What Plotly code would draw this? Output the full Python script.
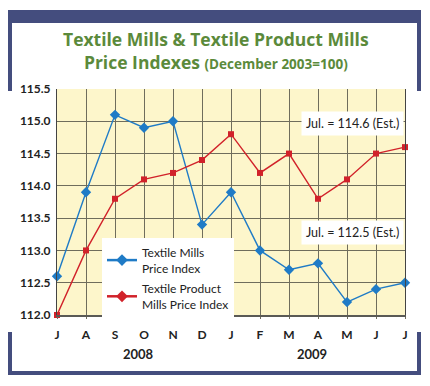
import plotly.graph_objects as go

months = ["J", "A", "S", "O", "N", "D", "J", "F", "M", "A", "M", "J", "J"]
textile_mills = [112.6, 113.9, 115.1, 114.9, 115.0, 113.4, 113.9, 113.0, 112.7, 112.8, 112.2, 112.4, 112.5]
textile_product_mills = [112.0, 113.0, 113.8, 114.1, 114.2, 114.4, 114.8, 114.2, 114.5, 113.8, 114.1, 114.5, 114.6]
y_ticks = [112.0, 112.5, 113.0, 113.5, 114.0, 114.5, 115.0, 115.5]
years = ["2008", "2009"]
series_names = ["Textile Mills<br>Price Index", "Textile Product<br>Mills Price Index"]

# page body has an 8px default margin; lay out in window pixels and compensate
OFF = 8
WIN_W, WIN_H = 430, 386
W, H = WIN_W - OFF, WIN_H - OFF
L, R, T, B = 57, 405, 89, 315   # plot area in window pixels
xs = list(range(len(months)))

def px(x):
    return (x - L) / (R - L)

def py(y):
    return (B - y) / (B - T)

BLUE = "#1f7bc6"
RED = "#d1222a"
GREEN = "#5b8a3b"
NAVY = "#444d7e"
FONT = "Lato"
TFONT = "Open Sans"

fig = go.Figure()
fig.add_trace(go.Scatter(
    x=xs, y=textile_mills, mode="lines+markers",
    name=series_names[0], showlegend=False, legendgroup="a",
    line=dict(color=BLUE, width=1.4),
    marker=dict(symbol="diamond", size=8, color=BLUE),
    cliponaxis=False,
))
fig.add_trace(go.Scatter(
    x=xs, y=textile_product_mills, mode="lines+markers",
    name=series_names[1], showlegend=False, legendgroup="b",
    line=dict(color=RED, width=1.4),
    marker=dict(symbol="square", size=6, color=RED),
    cliponaxis=False,
))
# legend entries (reference legend shows diamond markers for both series)
for nm, col, grp in [(series_names[0], BLUE, "a"), (series_names[1], RED, "b")]:
    fig.add_trace(go.Scatter(
        x=[None], y=[None], mode="lines+markers", name=nm, legendgroup=grp,
        line=dict(color=col, width=2.5),
        marker=dict(symbol="diamond", size=9, color=col),
    ))

shapes = []
def rect(x0, y0, x1, y1):
    shapes.append(dict(type="rect", xref="paper", yref="paper",
                       x0=px(x0), x1=px(x1), y0=py(y1), y1=py(y0),
                       fillcolor=NAVY, line=dict(width=0), layer="above"))

rect(8, 10, 421, 23)
rect(8, 23, 12, 91)
rect(417, 23, 421, 91)
rect(8, 332, 12, 375)
rect(8, 371, 421, 375)
rect(417, 332, 421, 375)

annotations = [
    dict(xref="paper", yref="paper", x=px(216), y=py(50),
         text="<b>Textile Mills &amp; Textile Product Mills<br>Price Indexes <span style='font-size:13.5px'>(December 2003=100)</span></b>",
         showarrow=False, align="center", font=dict(family=TFONT, size=17.5, color=GREEN),
         xanchor="center", yanchor="middle"),
    dict(xref="paper", yref="paper", x=px(352), y=py(123), text="Jul. = 114.6 (Est.)",
         showarrow=False, font=dict(family=FONT, size=12.5, color="#222"), bgcolor="white",
         borderpad=4, xanchor="center", yanchor="middle"),
    dict(xref="paper", yref="paper", x=px(352), y=py(232), text="Jul. = 112.5 (Est.)",
         showarrow=False, font=dict(family=FONT, size=12.5, color="#222"), bgcolor="white",
         borderpad=4, xanchor="center", yanchor="middle"),
    dict(xref="x", yref="paper", x=2.8, y=py(354), text="<b>" + years[0] + "</b>",
         showarrow=False, font=dict(family=FONT, size=13, color="#222"), xanchor="center", yanchor="middle"),
    dict(xref="x", yref="paper", x=8.8, y=py(354), text="<b>" + years[1] + "</b>",
         showarrow=False, font=dict(family=FONT, size=13, color="#222"), xanchor="center", yanchor="middle"),
]

fig.update_layout(
    width=W, height=H,
    margin=dict(l=L - OFF, r=W - (R - OFF), t=T - OFF, b=H - (B - OFF), autoexpand=False),
    paper_bgcolor="white",
    plot_bgcolor="#fdf6cb",
    showlegend=True,
    legend=dict(x=px(102), y=py(238), xanchor="left", yanchor="top",
                bgcolor="white", font=dict(family=FONT, size=12, color="#222"),
                itemwidth=30, borderwidth=0, tracegroupgap=2),
    shapes=shapes,
    annotations=annotations,
    font=dict(family=FONT),
)
fig.update_xaxes(
    range=[0, 12], tickvals=xs, ticktext=["<b>" + m + "</b>" for m in months],
    showgrid=True, gridcolor="#6f6d5c", gridwidth=1,
    showline=True, linecolor="#5a5a55", linewidth=2, mirror=False,
    ticks="outside", ticklen=2, tickcolor="#6f6d5c",
    tickfont=dict(family=FONT, size=12, color="#222"),
    ticklabelstandoff=6, zeroline=False, fixedrange=True, automargin=False,
)
fig.update_yaxes(
    range=[112, 115.5], tickvals=y_ticks, ticktext=["<b>%.1f</b>" % v for v in y_ticks],
    showgrid=True, gridcolor="#6f6d5c", gridwidth=1,
    showline=True, linecolor="#444", linewidth=1, mirror=True,
    tickfont=dict(family=FONT, size=12, color="#222"),
    ticklabelstandoff=3,
    zeroline=False, fixedrange=True, automargin=False,
)

fig.write_html("out.html")
